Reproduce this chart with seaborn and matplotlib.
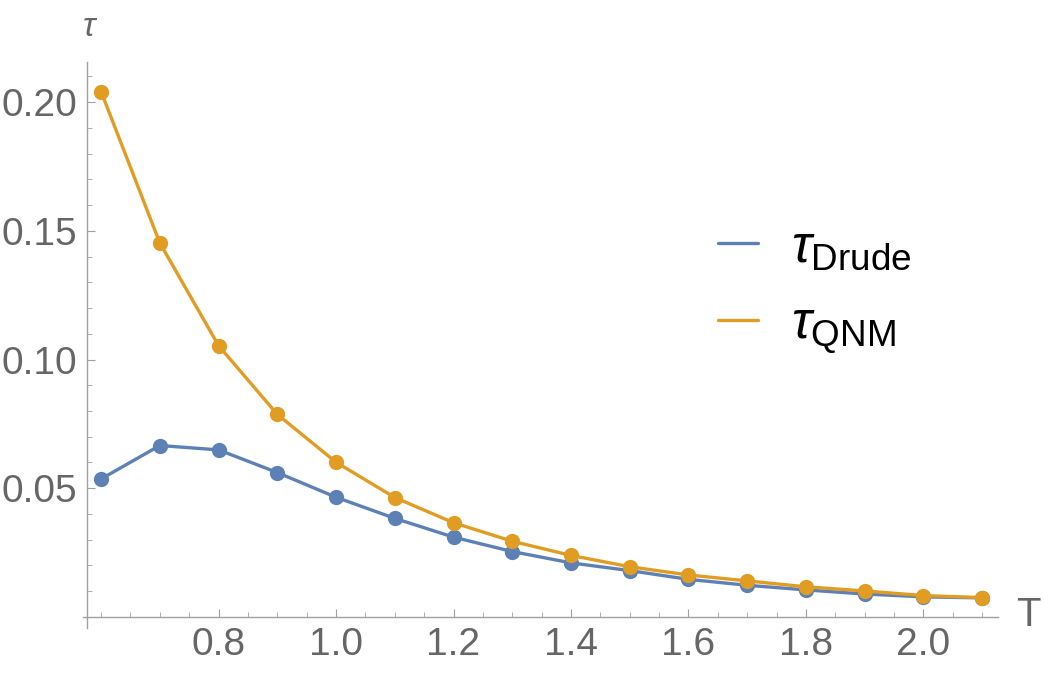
import numpy as np
import pandas as pd
import matplotlib
matplotlib.use("Agg")
import matplotlib.pyplot as plt
import seaborn as sns
from matplotlib.lines import Line2D
from matplotlib.ticker import FixedLocator

# data
T = [0.6, 0.7, 0.8, 0.9, 1.0, 1.1, 1.2, 1.3, 1.4, 1.5, 1.6, 1.7, 1.8, 1.9, 2.0, 2.1]
tau_drude = [0.0536, 0.0666, 0.0649, 0.0561, 0.0465, 0.0383, 0.0310, 0.0254,
             0.0210, 0.0180, 0.0146, 0.0123, 0.0105, 0.0089, 0.0078, 0.0074]
tau_qnm = [0.2041, 0.1453, 0.1054, 0.0787, 0.0601, 0.0464, 0.0366, 0.0294,
           0.0239, 0.0195, 0.0163, 0.0140, 0.0117, 0.0101, 0.0083, 0.0075]
x_major = [0.8, 1.0, 1.2, 1.4, 1.6, 1.8, 2.0]
x_minor = [0.6, 0.65, 0.7, 0.75, 0.85, 0.9, 0.95, 1.05, 1.1, 1.15, 1.25, 1.3, 1.35,
           1.45, 1.5, 1.55, 1.65, 1.7, 1.75, 1.85, 1.9, 1.95, 2.05, 2.1]
y_major = [0.05, 0.10, 0.15, 0.20]
y_minor = [0.01, 0.02, 0.03, 0.04, 0.06, 0.07, 0.08, 0.09, 0.11, 0.12, 0.13, 0.14,
           0.16, 0.17, 0.18, 0.19, 0.21]

blue = "#5E81B5"
orange = "#E19C24"
grey_txt = "#666666"
grey_ax = "#A0A0A0"

sns.set_style("white")
plt.rcParams['font.family'] = ['Liberation Sans', 'DejaVu Sans']
plt.rcParams['mathtext.fontset'] = 'custom'
plt.rcParams['mathtext.rm'] = 'Liberation Sans'
plt.rcParams['mathtext.it'] = 'Liberation Sans:italic'

df = pd.DataFrame({"T": T, "drude": tau_drude, "qnm": tau_qnm})

fig = plt.figure(figsize=(10.44, 6.75), dpi=100)
ax = fig.add_axes([83/1044, (675-628)/675, (998-83)/1044, (628-62)/675])

sns.lineplot(data=df, x="T", y="drude", ax=ax, color=blue, lw=2.4,
             marker="o", markersize=11, markeredgewidth=0)
sns.lineplot(data=df, x="T", y="qnm", ax=ax, color=orange, lw=2.4,
             marker="o", markersize=11, markeredgewidth=0)

# axes cross at (0.576, 0) with small overhang, like the original
ax.set_xlim(0.5692, 2.127)
ax.set_ylim(-0.0043, 0.2156)
ax.set_xlabel("")
ax.set_ylabel("")

for s in ["top", "right"]:
    ax.spines[s].set_visible(False)
ax.spines["left"].set_position(("data", 0.576))
ax.spines["bottom"].set_position(("data", 0.0))
for s in ["left", "bottom"]:
    ax.spines[s].set_color(grey_ax)
    ax.spines[s].set_linewidth(1.0)

ax.xaxis.set_major_locator(FixedLocator(x_major))
ax.xaxis.set_minor_locator(FixedLocator(x_minor))
ax.yaxis.set_major_locator(FixedLocator(y_major))
ax.yaxis.set_minor_locator(FixedLocator(y_minor))
ax.set_xticklabels([f"{v:.1f}" for v in x_major])
ax.set_yticklabels([f"{v:.2f}" for v in y_major])
ax.tick_params(which="both", bottom=True, left=True, direction="in")
ax.tick_params(which="major", length=6, width=0.8, color=grey_ax,
               labelsize=28, labelcolor=grey_txt, pad=7)
ax.tick_params(which="minor", length=3.5, width=0.6, color=grey_ax)

fig.text(90/1044, 1 - 27/675, r"$\tau$", fontsize=24, color=grey_txt, ha="center", va="center")
fig.text(1028/1044, 1 - 615/675, "T", fontsize=29, color=grey_txt, ha="center", va="center")

handles = [Line2D([0], [0], color=blue, lw=2.4), Line2D([0], [0], color=orange, lw=2.4)]
labels = [r"$\tau_{\mathrm{Drude}}$", r"$\tau_{\mathrm{QNM}}$"]
fig.legend(handles, labels, loc="center left", bbox_to_anchor=(670/1044, 1 - 289/675),
           frameon=False, fontsize=38, handlelength=0.76, handletextpad=0.63,
           labelspacing=0.5, labelcolor="black")

fig.savefig("out.png", dpi=100)
